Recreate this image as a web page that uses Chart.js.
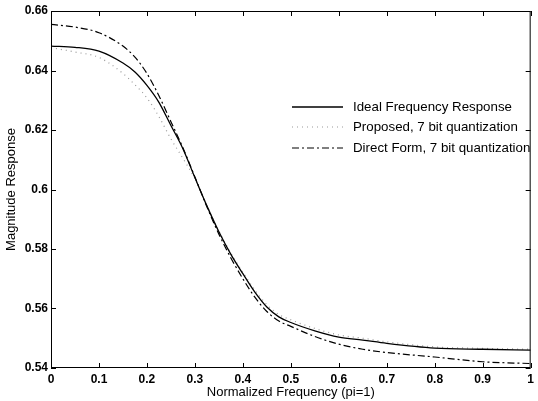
<!DOCTYPE html>
<html><head><meta charset="utf-8">
<script src="https://cdn.jsdelivr.net/npm/chart.js@4"></script>
<style>html,body{margin:0;padding:0;background:#fff}#wrap{width:538px;height:401px}</style>
</head><body><div id="wrap"><canvas id="c" width="538" height="401"></canvas></div>
<script>
const freq     = [0,0.05,0.1,0.15,0.175,0.2,0.225,0.25,0.275,0.3,0.325,0.35,0.375,0.4,0.425,0.45,0.475,0.5,0.55,0.6,0.65,0.7,0.8,0.9,1.0];
const ideal    = [0.6482,0.6478,0.6465,0.6425,0.6395,0.6350,0.6293,0.6215,0.6137,0.6040,0.5945,0.5858,0.5782,0.5717,0.5655,0.5605,0.5572,0.5553,0.5525,0.5504,0.5494,0.5483,0.5467,0.5463,0.5460];
const proposed = [0.6477,0.6462,0.6444,0.6390,0.6352,0.6308,0.6245,0.6170,0.6105,0.6036,0.5945,0.5860,0.5786,0.5722,0.5662,0.5613,0.5580,0.5562,0.5533,0.5511,0.5500,0.5488,0.5471,0.5466,0.5463];
const direct   = [0.6555,0.6546,0.6527,0.6482,0.6445,0.6390,0.6315,0.6228,0.6140,0.6042,0.5942,0.5850,0.5770,0.5700,0.5638,0.5590,0.5558,0.5540,0.5506,0.5480,0.5463,0.5452,0.5437,0.5421,0.5415];
const labels = ['Ideal Frequency Response','Proposed, 7 bit quantization','Direct Form, 7 bit quantization'];
const xTicks = [0,0.1,0.2,0.3,0.4,0.5,0.6,0.7,0.8,0.9,1];
const yTicks = [0.54,0.56,0.58,0.6,0.62,0.64,0.66];

const pts = arr => freq.map((x,i)=>({x, y: arr[i]}));
const FONT = 'Liberation Sans, Arial, Helvetica, sans-serif';

const frame = {
  id:'frame',
  afterDatasetsDraw(chart){
    const {ctx, chartArea:a, scales:{x,y}} = chart;
    ctx.save();
    ctx.strokeStyle='#000'; ctx.lineWidth=1;
    ctx.strokeRect(a.left+0.5,a.top+0.5,a.right-a.left-1,a.bottom-a.top-1);
    ctx.beginPath();
    xTicks.forEach(v=>{const px=Math.round(x.getPixelForValue(v))+0.5;
      ctx.moveTo(px,a.bottom); ctx.lineTo(px,a.bottom-5);
      ctx.moveTo(px,a.top); ctx.lineTo(px,a.top+5);});
    yTicks.forEach(v=>{const py=Math.round(y.getPixelForValue(v))+0.5;
      ctx.moveTo(a.left,py); ctx.lineTo(a.left+5,py);
      ctx.moveTo(a.right,py); ctx.lineTo(a.right-5,py);});
    ctx.stroke();
    // legend
    const lx0=292, lx1=343, tx=353, rows=[107,127,148];
    ctx.font='13.3px '+FONT; ctx.fillStyle='#000'; ctx.textBaseline='middle';
    chart.data.datasets.forEach((ds,i)=>{
      ctx.beginPath();
      ctx.strokeStyle=ds.borderColor; ctx.lineWidth=ds.borderWidth;
      ctx.setLineDash(ds.borderDash||[]);
      ctx.moveTo(lx0,rows[i]); ctx.lineTo(lx1,rows[i]); ctx.stroke();
      ctx.setLineDash([]);
      ctx.fillText(ds.label,tx,rows[i]);
    });
    ctx.restore();
  }
};

new Chart(document.getElementById('c'),{
  type:'line',
  data:{datasets:[
    {label:labels[0],data:pts(ideal),borderColor:'#000',borderWidth:1.3,pointRadius:0,cubicInterpolationMode:'monotone'},
    {label:labels[1],data:pts(proposed),borderColor:'#999',borderWidth:1.2,borderDash:[1,4],pointRadius:0,cubicInterpolationMode:'monotone'},
    {label:labels[2],data:pts(direct),borderColor:'#000',borderWidth:1.2,borderDash:[7,3,2,3],pointRadius:0,cubicInterpolationMode:'monotone'}
  ]},
  plugins:[frame],
  options:{
    responsive:false,animation:false,
    layout:{padding:{top:11,right:3,left:0,bottom:0}},
    plugins:{legend:{display:false},tooltip:{enabled:false}},
    scales:{
      x:{type:'linear',min:0,max:1,
        afterBuildTicks:s=>{s.ticks=xTicks.map(v=>({value:v}));},
        afterFit:s=>{s.height=33;},
        grid:{display:false,drawTicks:false},border:{display:false},
        ticks:{color:'#000',padding:4,maxRotation:0,autoSkip:false,font:{family:FONT,size:12,weight:'bold'},callback:v=>String(v)},
        title:{display:true,text:'Normalized Frequency (pi=1)',color:'#000',font:{family:FONT,size:13},padding:{top:1,bottom:1}}},
      y:{type:'linear',min:0.54,max:0.66,
        afterBuildTicks:s=>{s.ticks=yTicks.map(v=>({value:v}));},
        afterFit:s=>{s.width=51;},
        grid:{display:false,drawTicks:false},border:{display:false},
        ticks:{color:'#000',padding:3,autoSkip:false,font:{family:FONT,size:12,weight:'bold'},callback:v=>String(+v.toFixed(2))},
        title:{display:true,text:'Magnitude Response',color:'#000',font:{family:FONT,size:13},padding:{top:4,bottom:0}}}
    }
  }
});
</script></body></html>
